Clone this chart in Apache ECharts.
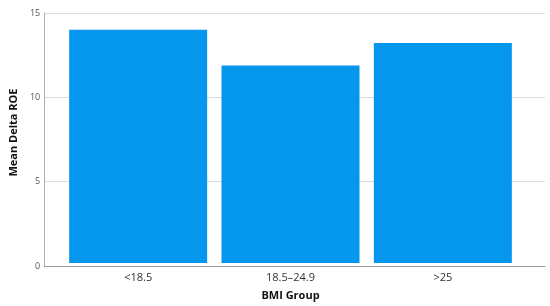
<!DOCTYPE html>
<html>
<head>
<meta charset="utf-8">
<script src="https://cdn.jsdelivr.net/npm/echarts@6/dist/echarts.min.js"></script>
<style>
  html, body { margin: 0; padding: 0; background: #fff; }
  #box { width: 550px; height: 306px; }
</style>
</head>
<body>
<div id="box"></div>
<script>
var categories = ['<18.5', '18.5\u201324.9', '>25'];
var meanDeltaRoe = [14.0, 11.85, 13.2];
var yTicks = [0, 5, 10, 15];

var chartDom = document.getElementById('box');
var myChart = echarts.init(chartDom);
var font = 'Open Sans';
var option = {
  animation: false,
  textStyle: { fontFamily: font },
  grid: [
    // outer frame: axis lines and grid lines
    { left: 36, right: 5, top: 13, bottom: 40 },
    // inner band for the bars
    { left: 62, right: 31, top: 13, bottom: 40 }
  ],
  xAxis: [
    {
      type: 'value', gridIndex: 0, min: 0, max: 1,
      axisLine: { show: true, lineStyle: { color: '#9a9a9a', width: 1 } },
      axisTick: { show: false }, axisLabel: { show: false }, splitLine: { show: false }
    },
    {
      type: 'category', gridIndex: 1, data: categories,
      axisLine: { show: false }, axisTick: { show: false },
      axisLabel: { color: '#333', fontSize: 11, margin: 9 },
      name: 'BMI Group', nameLocation: 'middle', nameGap: 27,
      nameTextStyle: { color: '#111', fontSize: 11, fontWeight: 'bold' }
    }
  ],
  yAxis: [
    {
      type: 'value', gridIndex: 0, min: 0, max: 15, interval: 5,
      axisLine: { show: true, lineStyle: { color: '#b0b0b0' } },
      axisTick: { show: false },
      axisLabel: { color: '#555', fontSize: 9, margin: 4,
        formatter: function (v) { return yTicks.indexOf(v) >= 0 ? v : ''; } },
      splitLine: { lineStyle: { color: '#dcdcdc' } },
      name: 'Mean Delta ROE', nameLocation: 'middle', nameGap: 25, nameRotate: 90,
      nameTextStyle: { color: '#111', fontSize: 11, fontWeight: 'bold', padding: [0, 0, 0, 14] }
    },
    {
      type: 'value', gridIndex: 1, min: 0, max: 15, interval: 5,
      axisLine: { show: false }, axisTick: { show: false },
      axisLabel: { show: false }, splitLine: { show: false }
    }
  ],
  series: [
    {
      type: 'bar', xAxisIndex: 1, yAxisIndex: 1,
      data: meanDeltaRoe,
      barWidth: 138,
      itemStyle: { color: '#0596EE' }
    }
  ]
};
option && myChart.setOption(option);
</script>
</body>
</html>
